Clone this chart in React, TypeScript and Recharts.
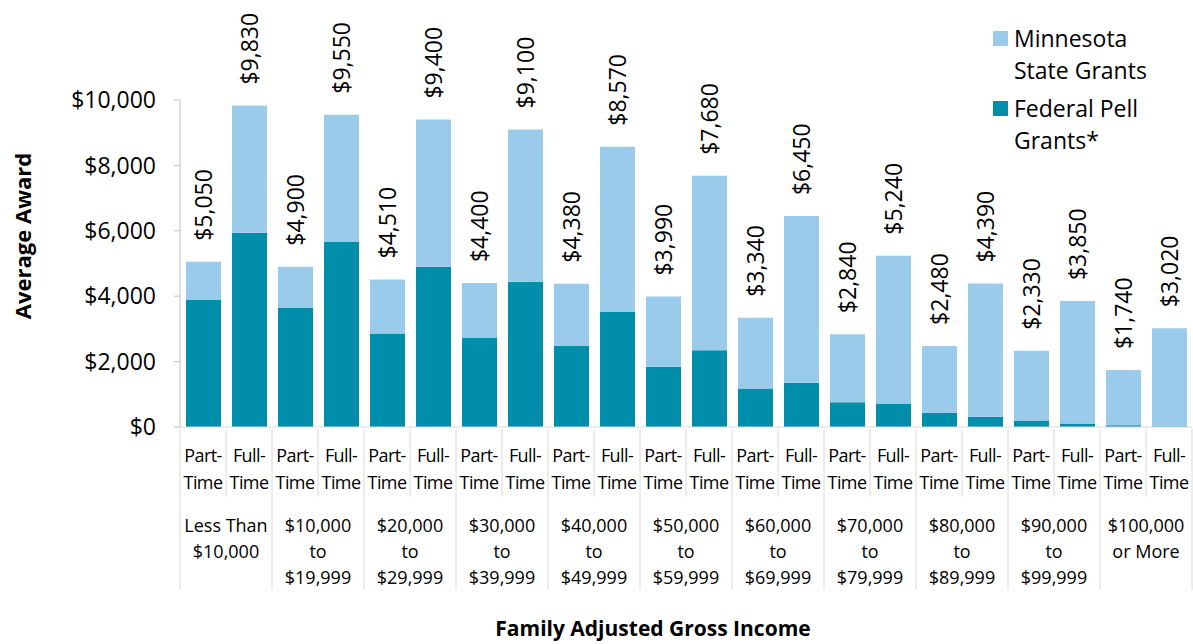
import { BarChart, Bar, XAxis, YAxis, LabelList, Label } from 'recharts';

const GROUPS = [
  ['Less Than', '$10,000'],
  ['$10,000', 'to', '$19,999'],
  ['$20,000', 'to', '$29,999'],
  ['$30,000', 'to', '$39,999'],
  ['$40,000', 'to', '$49,999'],
  ['$50,000', 'to', '$59,999'],
  ['$60,000', 'to', '$69,999'],
  ['$70,000', 'to', '$79,999'],
  ['$80,000', 'to', '$89,999'],
  ['$90,000', 'to', '$99,999'],
  ['$100,000', 'or More'],
];
const STATUS = [['Part-', 'Time'], ['Full-', 'Time']];

// total award per bar (Part-Time, Full-Time for each income group)
const TOTALS = [5050, 9830, 4900, 9550, 4510, 9400, 4400, 9100, 4380, 8570, 3990, 7680, 3340, 6450, 2840, 5240, 2480, 4390, 2330, 3850, 1740, 3020];
// Federal Pell portion
const PELL = [3880, 5940, 3640, 5660, 2860, 4900, 2720, 4440, 2480, 3520, 1840, 2350, 1180, 1350, 760, 700, 430, 310, 200, 110, 50, 20];
const Y_TICKS = [0, 2000, 4000, 6000, 8000, 10000];

const LIGHT = '#9BCBEB';
const DARK = '#008EAA';
const FONT = "'Open Sans', sans-serif";
const W = 1193;
const H = 644;
const LEFT = 180;
const RIGHT = 1;
const BAND = (W - LEFT - RIGHT) / TOTALS.length;

const data = TOTALS.map((total, i) => ({
  key: `c${i}`,
  total,
  pell: PELL[i],
  state: total - PELL[i],
}));

const money = (v: number) => `$${v.toLocaleString('en-US')}`;

function CategoryTick(props: any) {
  const { x, y, index } = props;
  const status = STATUS[index % 2];
  const groupEnd = index % 2 === 1;
  const group = GROUPS[Math.floor(index / 2)];
  return (
    <g fontFamily={FONT} fontSize={18} fill="#000">
      <text x={x} y={y + 26} textAnchor="middle" dominantBaseline="central" letterSpacing={-0.6}>{status[0]}</text>
      <text x={x} y={y + 53} textAnchor="middle" dominantBaseline="central" letterSpacing={-0.6}>{status[1]}</text>
      <line x1={x + BAND / 2} x2={x + BAND / 2} y1={y} y2={groupEnd ? y + 161 : y + 68} stroke="#d9d9d9" />
      {index === 0 && <line x1={x - BAND / 2} x2={x - BAND / 2} y1={y} y2={y + 161} stroke="#d9d9d9" />}
      {groupEnd &&
        group.map((t, k) => (
          <text key={k} x={x - BAND / 2} y={y + 96 + k * 26} textAnchor="middle" dominantBaseline="central">
            {t}
          </text>
        ))}
    </g>
  );
}

function TotalLabel(props: any) {
  const { x, y, width, value } = props;
  const cx = x + width / 2;
  const ty = y - 21;
  return (
    <text
      x={cx}
      y={ty}
      transform={`rotate(-90 ${cx} ${ty})`}
      textAnchor="start"
      dominantBaseline="central"
      fontFamily={FONT}
      fontSize={23}
      fill="#000"
    >
      {money(value)}
    </text>
  );
}

export default function App() {
  return (
    <div style={{ position: 'absolute', left: 0, top: 0, width: W, height: H, background: '#fff', fontFamily: FONT }}>
      <BarChart width={W} height={H} data={data} margin={{ top: 100, right: RIGHT, bottom: 47, left: 0 }}>
        <XAxis
          dataKey="key"
          interval={0}
          height={170}
          tickLine={false}
          tickSize={0}
          tick={<CategoryTick />}
          axisLine={{ stroke: '#d9d9d9' }}
        />
        <YAxis
          width={LEFT}
          domain={[0, 10000]}
          ticks={Y_TICKS}
          tickFormatter={money}
          tickSize={6}
          tickMargin={18}
          axisLine={{ stroke: '#bfbfbf' }}
          tickLine={{ stroke: '#bfbfbf' }}
          tick={{ fontFamily: FONT, fontSize: 23, fill: '#000' }}
        >
          <Label
            content={() => (
              <text
                x={22}
                y={236}
                transform="rotate(-90 22 236)"
                textAnchor="middle"
                dominantBaseline="central"
                fontFamily={FONT}
                fontSize={22}
                fontWeight="bold"
                fill="#000"
              >
                Average Award
              </text>
            )}
          />
        </YAxis>
        <Bar dataKey="pell" stackId="a" fill={DARK} barSize={35} isAnimationActive={false} />
        <Bar dataKey="state" stackId="a" fill={LIGHT} barSize={35} isAnimationActive={false}>
          <LabelList dataKey="total" content={<TotalLabel />} />
        </Bar>
      </BarChart>
      <div
        style={{
          position: 'absolute',
          left: 0,
          width: 1306,
          top: 614,
          textAlign: 'center',
          fontSize: 21,
          fontWeight: 'bold',
          color: '#000',
        }}
      >
        Family Adjusted Gross Income
      </div>
      <div style={{ position: 'absolute', left: 993, top: 22, fontSize: 23, lineHeight: '32px', color: '#000' }}>
        {[
          { color: LIGHT, lines: ['Minnesota', 'State Grants'] },
          { color: DARK, lines: ['Federal Pell', 'Grants*'] },
        ].map((item, i) => (
          <div key={i} style={{ display: 'flex', alignItems: 'flex-start', marginBottom: i === 0 ? 6 : 0 }}>
            <span style={{ width: 15, height: 15, background: item.color, marginTop: 9, marginRight: 6, flex: 'none' }} />
            <span>
              {item.lines.map((l, k) => (
                <div key={k}>{l}</div>
              ))}
            </span>
          </div>
        ))}
      </div>
    </div>
  );
}
